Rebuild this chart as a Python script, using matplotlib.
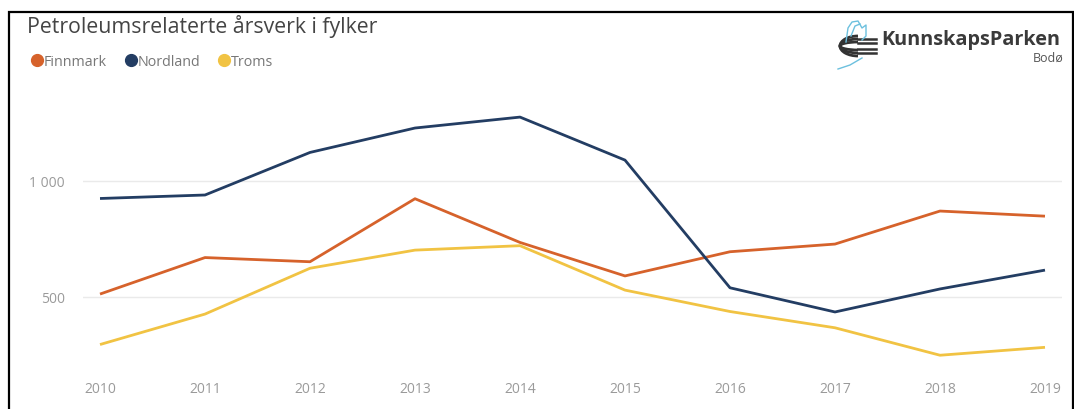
import matplotlib
matplotlib.use("Agg")
import matplotlib.pyplot as plt
from matplotlib.lines import Line2D
from matplotlib.patches import Rectangle, Arc

# ── Data ───────────────────────────────────────────────────────────────────────
years     = [2010, 2011, 2012, 2013, 2014, 2015, 2016, 2017, 2018, 2019]
finnmark  = [514, 671, 653, 924, 736, 592, 696, 729, 871, 849]
nordland  = [925, 940, 1123, 1228, 1275, 1090, 541, 437, 536, 617]
troms     = [297, 428, 625, 703, 722, 531, 439, 369, 251, 285]

series_names = ["Finnmark", "Nordland", "Troms"]
COLORS = {"Finnmark": "#D6622B", "Nordland": "#233D63", "Troms": "#F1C343"}

y_ticks = [500, 1000]
y_tick_labels = ["500", "1 000"]

plt.rcParams["font.family"] = ["Open Sans", "DejaVu Sans"]

W, H = 1074, 409
fig = plt.figure(figsize=(W / 100, H / 100), dpi=100)
fig.patch.set_facecolor("white")

# plot area in pixel terms
left, right, top, bottom = 83, 1062, 95, 365
ax = fig.add_axes([left / W, 1 - bottom / H, (right - left) / W, (bottom - top) / H])

for name, vals in zip(series_names, [finnmark, nordland, troms]):
    ax.plot(years, vals, color=COLORS[name], linewidth=2, solid_capstyle="butt", zorder=3)

ax.set_xlim(2009.838, 2019.162)
ax.set_ylim(209, 1370)
ax.set_xticks(years)
ax.set_xticklabels([str(y) for y in years])
ax.set_yticks(y_ticks)
ax.set_yticklabels(y_tick_labels)
ax.grid(axis="y", color="#EAEAEA", linewidth=1)
ax.set_axisbelow(True)
for s in ax.spines.values():
    s.set_visible(False)
ax.tick_params(axis="both", length=0, labelsize=10, labelcolor="#9A9A9A")
ax.tick_params(axis="x", pad=12)
ax.tick_params(axis="y", pad=13)

# ── Title & legend ─────────────────────────────────────────────────────────────
fig.text(27 / W, 1 - 27 / H, "Petroleumsrelaterte årsverk i fylker",
         fontsize=15.3, color="#444444", va="center", ha="left")

handles = [Line2D([], [], linestyle="none", marker="o", markersize=8.5,
                  color=COLORS[n]) for n in series_names]
leg = fig.legend(handles, series_names, loc="center left",
                 bbox_to_anchor=(24 / W, 1 - 62 / H), ncol=3, frameon=False,
                 fontsize=10.3, handletextpad=0.0, columnspacing=1.15,
                 handlelength=1.0, borderaxespad=0)
for t in leg.get_texts():
    t.set_color("#777777")

# ── Logo ───────────────────────────────────────────────────────────────────────
fig.text(881 / W, 1 - 40 / H, "KunnskapsParken", fontsize=14.3, fontweight="bold",
         color="#3A3A3A", va="center", ha="left")
fig.text(1063 / W, 1 - 58 / H, "Bodø", fontsize=9, color="#555555",
         va="center", ha="right")
lax = fig.add_axes([832 / W, 1 - 72 / H, 48 / W, 58 / H])
lax.set_xlim(832, 880)
lax.set_ylim(72, 14)
lax.axis("off")
for h in [8, 14, 20]:
    lax.add_patch(Arc((858, 46), 36, h, theta1=90, theta2=270,
                      color="#333333", linewidth=2))
for yy in [39, 43, 49, 53]:
    lax.plot([858, 876], [yy, yy], color="#333333", linewidth=1.8)
lax.plot([846, 848, 852, 858, 862, 866, 866, 862],
         [42, 28, 22, 21, 28, 25, 36, 40], color="#6CC0DE", linewidth=1)
lax.plot([851, 855, 860], [36, 26, 24], color="#6CC0DE", linewidth=1)
lax.plot([838, 850, 862], [69, 65, 58], color="#6CC0DE", linewidth=1)

# ── Frame ──────────────────────────────────────────────────────────────────────
fig.add_artist(Rectangle((9 / W, -0.2), (1073 - 9) / W, 1.2 - 12 / H,
                         transform=fig.transFigure, fill=False,
                         edgecolor="black", linewidth=1.6, zorder=10))

fig.savefig("out.png", dpi=100, facecolor="white")
